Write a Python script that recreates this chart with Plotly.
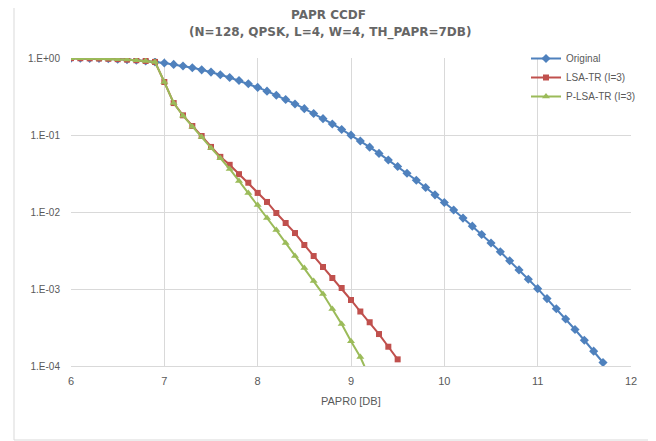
import plotly.graph_objects as go

papr0_db = [6.0, 6.1, 6.2, 6.3, 6.4, 6.5, 6.6, 6.7, 6.8, 6.9,
            7.0, 7.1, 7.2, 7.3, 7.4, 7.5, 7.6, 7.7, 7.8, 7.9,
            8.0, 8.1, 8.2, 8.3, 8.4, 8.5, 8.6, 8.7, 8.8, 8.9,
            9.0, 9.1, 9.2, 9.3, 9.4, 9.5, 9.6, 9.7, 9.8, 9.9,
            10.0, 10.1, 10.2, 10.3, 10.4, 10.5, 10.6, 10.7, 10.8, 10.9,
            11.0, 11.1, 11.2, 11.3, 11.4, 11.5, 11.6, 11.7]

original = [0.996, 0.993, 0.990, 0.984, 0.977, 0.966, 0.953, 0.936, 0.915, 0.889,
            0.860, 0.826, 0.788, 0.747, 0.702, 0.656, 0.607, 0.559, 0.510, 0.462,
            0.415, 0.371, 0.329, 0.289, 0.253, 0.220, 0.190, 0.163, 0.139, 0.118,
            0.0995, 0.0834, 0.0695, 0.0577, 0.0474, 0.0389, 0.0318, 0.0258, 0.0208, 0.0167,
            0.0133, 0.0106, 0.00833, 0.00655, 0.00510, 0.00395, 0.00304, 0.00233, 0.00177, 0.00134,
            0.00101, 0.00075, 0.000555, 0.000408, 0.000298, 0.000216, 0.000156, 0.000111]

lsa_tr = [0.996, 0.993, 0.990, 0.984, 0.977, 0.966, 0.953, 0.936, 0.915, 0.889,
          0.488, 0.26, 0.18, 0.131, 0.097, 0.070, 0.052, 0.041, 0.031, 0.024,
          0.0177, 0.0135, 0.0097, 0.0072, 0.00533, 0.00373, 0.00268, 0.00193, 0.00139, 0.00103,
          0.00072, 0.00051, 0.00037, 0.00026, 0.000178, 0.000122]

p_lsa_tr = [0.996, 0.993, 0.990, 0.984, 0.977, 0.966, 0.953, 0.936, 0.915, 0.889,
            0.488, 0.26, 0.178, 0.128, 0.094, 0.068, 0.050, 0.0362, 0.0253, 0.0177,
            0.0123, 0.00836, 0.00583, 0.00396, 0.00268, 0.00187, 0.00127, 0.00086, 0.00055, 0.00035,
            0.00021, 0.000131, 0.00007]

y_tick_vals = [1, 0.1, 0.01, 0.001, 0.0001]
y_tick_text = ["1.E+00", "1.E-01", "1.E-02", "1.E-03", "1.E-04"]
x_tick_vals = [6, 7, 8, 9, 10, 11, 12]

BLUE = "#4F81BD"
RED = "#C0504D"
GREEN = "#9BBB59"
TXT = "#595959"
GRID = "#D9D9D9"

fig = go.Figure()
fig.add_trace(go.Scatter(
    x=papr0_db[:len(original)], y=original, name="Original", mode="lines+markers",
    line=dict(color=BLUE, width=2), marker=dict(symbol="diamond", size=7, color=BLUE)))
fig.add_trace(go.Scatter(
    x=papr0_db[:len(lsa_tr)], y=lsa_tr, name="LSA-TR (I=3)", mode="lines+markers",
    line=dict(color=RED, width=2), marker=dict(symbol="square", size=6, color=RED)))
fig.add_trace(go.Scatter(
    x=papr0_db[:len(p_lsa_tr)], y=p_lsa_tr, name="P-LSA-TR (I=3)", mode="lines+markers",
    line=dict(color=GREEN, width=2), marker=dict(symbol="triangle-up", size=7, color=GREEN)))

W, H = 656, 441
OFF = 8  # page body margin offset
L, T = 71 - OFF, 58 - OFF
R = W - (631 - OFF)
B = H - (366 - OFF)
pw, ph = W - L - R, H - T - B

def px(x):
    return (x - OFF - L) / pw

def py(y):
    return (H - B - (y - OFF)) / ph

fig.update_layout(
    width=W, height=H,
    margin=dict(l=L, r=R, t=T, b=B),
    paper_bgcolor="white", plot_bgcolor="white",
    font=dict(family="Liberation Sans, Arial, sans-serif", color=TXT),
    showlegend=True,
    legend=dict(x=px(526), y=py(44), xanchor="left", yanchor="top",
                bgcolor="rgba(255,255,255,0)", font=dict(size=10, color=TXT),
                tracegroupgap=0, itemwidth=30),
    xaxis=dict(type="linear", range=[6, 12], tickvals=x_tick_vals,
               showgrid=True, gridcolor=GRID, gridwidth=1,
               showline=True, linecolor=GRID, zeroline=False,
               ticks="", tickfont=dict(size=11, color=TXT), ticklabelstandoff=5),
    yaxis=dict(type="log", range=[-4, 0], tickvals=y_tick_vals, ticktext=y_tick_text,
               showgrid=True, gridcolor=GRID, gridwidth=1,
               showline=False, zeroline=False,
               ticks="", tickfont=dict(size=10, color=TXT), ticklabelstandoff=10),
    annotations=[
        dict(text="<b>PAPR CCDF</b>", x=px(328), y=py(15), xref="paper", yref="paper",
             showarrow=False, xanchor="center", yanchor="middle",
             font=dict(family="DejaVu Sans", size=12, color="#666666")),
        dict(text="<b>(N=128, QPSK, L=4, W=4, TH_PAPR=7DB)</b>", x=px(330), y=py(33),
             xref="paper", yref="paper", showarrow=False, xanchor="center", yanchor="middle",
             font=dict(family="DejaVu Sans", size=12, color="#666666")),
        dict(text="PAPR0 [DB]", x=px(351), y=py(401), xref="paper", yref="paper",
             showarrow=False, xanchor="center", yanchor="middle",
             font=dict(size=11, color=TXT)),
    ],
    shapes=[dict(type="rect", xref="paper", yref="paper",
                 x0=px(14), x1=px(655), y0=py(440), y1=py(3),
                 line=dict(color=GRID, width=1), fillcolor="rgba(0,0,0,0)", layer="below")],
)

fig.write_html("out.html")
